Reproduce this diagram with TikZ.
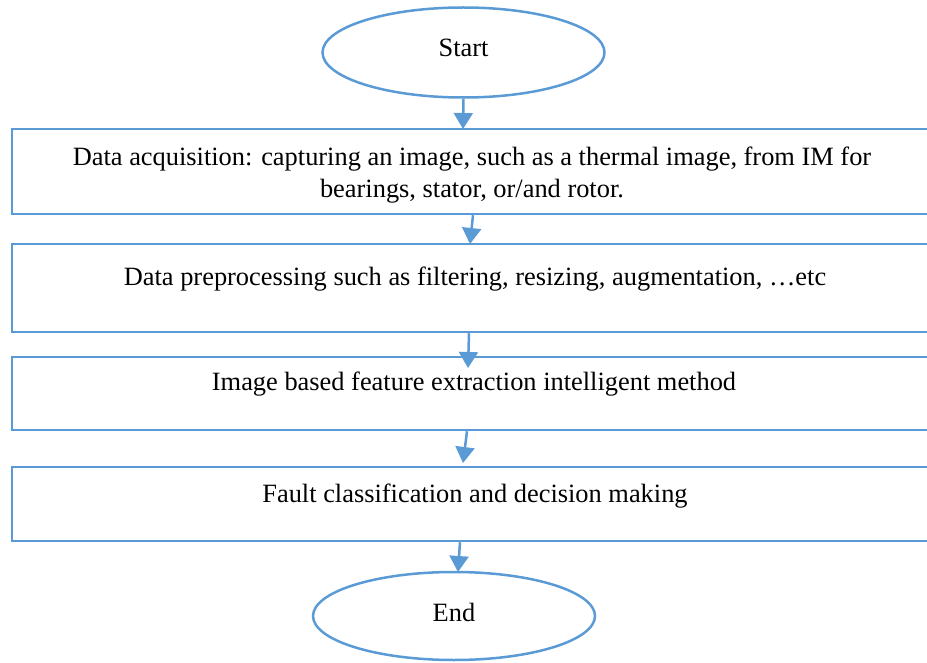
\documentclass[tikz,border=0pt]{standalone}
\usepackage{fontspec}
\setmainfont{Liberation Serif}
\usetikzlibrary{arrows.meta,shapes.geometric}
\definecolor{flowblue}{HTML}{5B9BD5}
\tikzset{
  terminal/.style={ellipse, draw=flowblue, line width=2.5pt, minimum width=282pt, minimum height=90pt, inner sep=0pt},
  stepbox/.style={rectangle, draw=flowblue, line width=2.5pt, minimum width=925pt, inner sep=0pt},
  boxtext/.style={font=\fontsize{26.4pt}{32pt}\selectfont, align=center, inner sep=0pt},
  flow/.style={draw=flowblue, line width=2.5pt, -{Triangle[length=16pt,width=19pt]}}
}
\begin{document}
\begin{tikzpicture}[x=1pt,y=-1pt]
\useasboundingbox (0,0) rectangle (927,663);
\clip (0,0) rectangle (927,663);
% terminals
\node[terminal] (start) at (463.5,52.5) {};
\node[boxtext] (starttxt) at (463.5,48) {Start};
\node[terminal, minimum height=88pt] (end) at (454,616) {};
\node[boxtext] (endtxt) at (454,612) {End};
% process steps
\node[stepbox, minimum height=85pt] (b1) at (474.5,171.5) {};
\node[stepbox, minimum height=88pt] (b2) at (474.5,288) {};
\node[stepbox, minimum height=73pt] (b3) at (474.5,393.5) {};
\node[stepbox, minimum height=74pt] (b4) at (474.5,504) {};
\node[boxtext] (t1) at (472,175) {Data acquisition: capturing an image, such as a thermal image, from IM for\\bearings, stator, or/and rotor.};
\node[boxtext] (t2) at (475,279) {Data preprocessing such as filtering, resizing, augmentation, …etc};
\node[boxtext] (t3) at (474,384) {Image based feature extraction intelligent method};
\node[boxtext] (t4) at (475,496) {Fault classification and decision making};
% arrow ends on the box edges
\coordinate (e1) at (463,129);
\coordinate (e2) at (470,244);
\coordinate (e3) at (468,368);
\coordinate (e4) at (463,463);
\coordinate (e5) at (458,572);
\coordinate (s2) at (473,0 |- b1.south);
\coordinate (s3) at (469,0 |- b2.south);
\coordinate (s4) at (467,0 |- b3.south);
\coordinate (s5) at (460,0 |- b4.south);
\draw[flow] (start.south) -- (e1);
\draw[flow] (s2) -- (e2);
\draw[flow] (s3) -- (e3);
\draw[flow] (s4) -- (e4);
\draw[flow] (s5) -- (e5);
\end{tikzpicture}
\end{document}
